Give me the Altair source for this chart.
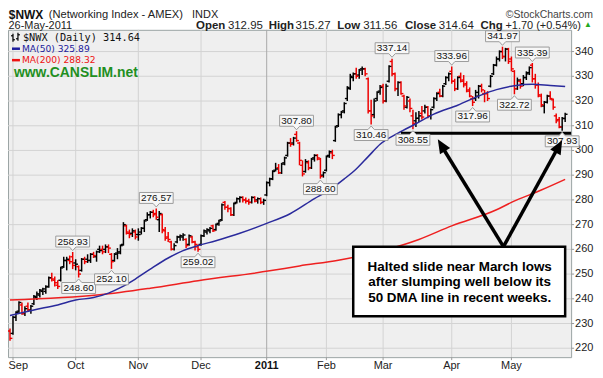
import altair as alt
import numpy as np
import pandas as pd

# trading-day index: 0 = 31-Aug-2010 ... 186 = 26-May-2011
opens = [
    227, 226, 232.5, 235, 237.5, 234, 237, 235.5, 238, 240.5,
    241.5, 243, 243, 245, 248.5, 247.5, 245.5, 247.5, 253, 255.5,
    255.5, 257, 254.5, 253, 251.5, 256, 256, 255.5, 258, 257,
    260, 260, 260, 261, 258, 255.5, 258.5, 259, 262, 269.5,
    266.5, 266.5, 267, 266, 267, 268.5, 272, 274, 275, 274.5,
    272, 274, 267.5, 265, 263, 260, 263, 265, 265, 264,
    262, 265, 263, 261, 262, 265.5, 267, 267.5, 269.5, 268,
    270.5, 272, 279, 277, 276.5, 274, 279, 280.5, 281, 280,
    279.5, 279, 281, 280, 280.5, 279, 282, 287, 288.5, 292,
    293, 291, 295, 298, 303, 303, 306.5, 303, 294, 291.5,
    295, 293, 297, 298, 296.5, 290, 292, 298, 299, 304,
    310, 314.5, 316, 321, 325, 329.5, 331, 330.5, 333, 333,
    329, 316, 314.5, 321, 324, 326, 320, 328, 336, 331,
    325, 327.5, 322, 317.5, 320, 314, 312, 313, 315, 316,
    317.5, 314, 317.5, 321, 323.5, 322, 327, 329.5, 332, 328,
    325, 330, 328.5, 327, 324.5, 321, 321, 322, 326, 323,
    323, 326, 331, 334.5, 337, 340, 338, 341, 337, 332,
    325, 328, 327, 329.5, 331.5, 334.5, 329, 326.5, 322, 318,
    319.5, 322, 320.5, 314, 312.5, 309.5, 312.95]
highs = [
    228, 233, 235, 239, 238.5, 237, 238.5, 237.5, 241.5, 243,
    244, 244.5, 245.5, 249, 250.5, 249, 247.5, 253, 257, 257,
    257.5, 258.93, 256, 253.5, 256.5, 257, 258, 258.5, 259, 259.5,
    261.5, 261.5, 262, 262, 258.5, 258.5, 260.5, 262, 271, 270,
    268, 268.5, 268, 268.5, 269, 272, 275, 275.5, 276, 276.57,
    275.5, 274.5, 269, 267, 263.5, 262.5, 265.5, 266, 266.5, 264.5,
    266, 265.5, 263.5, 262, 266, 268, 268.5, 269, 270, 270.5,
    272, 278.5, 279.6, 278, 277, 279, 281, 281.5, 281.5, 281,
    280.5, 281.5, 281.5, 281, 281, 280.5, 287.5, 289, 292, 295,
    294.5, 295, 297.5, 303.5, 305, 305.5, 307.80, 303.5, 296, 296.5,
    296, 297, 298.5, 298.5, 297, 291.5, 298, 300, 300.3, 310,
    315, 316, 319.5, 326, 331, 331.5, 333.5, 333, 334, 333.5,
    329.5, 320.5, 321, 324, 326.5, 327, 327, 334.5, 337.14, 331.5,
    328, 328, 322.5, 322, 321, 316.5, 315.5, 316, 318, 318.5,
    318, 317, 321.5, 323.5, 325, 326.5, 330, 331.5, 333.96, 329,
    330, 331.5, 330.5, 328, 325.5, 322, 324.5, 326.5, 327, 324.5,
    324, 330.5, 335, 338, 340.5, 341.97, 341.5, 341.5, 338, 332.5,
    329.5, 329, 330.5, 332, 334, 335.39, 331, 327.5, 323, 320,
    322.5, 324, 321, 315, 313.5, 313.5, 315.27]
lows = [
    223, 225.5, 231, 234, 233.5, 233, 235, 234, 237.5, 239.5,
    240.5, 241.5, 242, 244.5, 247, 245, 244, 247, 252.5, 251.5,
    254, 252, 251.5, 248.60, 251, 254, 254.5, 254.5, 256.5, 255,
    258.5, 258, 258.5, 258.5, 252.10, 255, 256, 258, 261.5, 266,
    264.5, 265, 264, 263.5, 266, 267, 271.5, 272.5, 273, 272,
    267, 266.5, 263.5, 263, 259.5, 259.5, 262.5, 263.5, 263.5, 260.5,
    261.5, 262.5, 259.5, 259.02, 261.5, 265, 266, 266.5, 267, 267.5,
    269.5, 271.5, 276, 275, 273.5, 273.5, 278.5, 279, 279, 278.5,
    278, 278.5, 279, 278.5, 278.3, 278, 281.5, 285.5, 288, 291.5,
    290.5, 290.5, 294, 297.5, 301.5, 302, 303.5, 294, 289.5, 291,
    292, 292.5, 295.5, 296, 288.60, 289, 291.5, 297, 296.5, 303.5,
    309.5, 313, 315, 320, 324.5, 328, 329, 329, 330.5, 330,
    315, 310.46, 313, 320, 322.5, 319, 319.5, 327.5, 330, 324,
    322, 322.5, 316.5, 317, 315.5, 308.55, 309.5, 311.5, 312.5, 315,
    313, 312.5, 317, 320, 321.5, 321.5, 326.5, 328, 327, 324,
    324.5, 327.5, 325.5, 323.5, 321.5, 317.96, 320, 321, 323.5, 319.5,
    320, 325.5, 330.5, 334, 336, 337, 336, 335, 332, 322.72,
    324.5, 325, 326, 328.5, 330.5, 327.5, 325, 321.5, 317.5, 315,
    319, 320.5, 316.5, 311, 309, 307.93, 311.56]
closes = [
    224, 232.5, 234.5, 238.5, 234, 236, 235.5, 237, 241, 242,
    243.5, 244, 244.8, 248.5, 248, 246.5, 245, 252.5, 255.5, 256,
    255, 253.5, 254, 250, 256, 255, 255.5, 258, 257.5, 259,
    259.5, 259, 261, 260.5, 255, 258, 258.5, 261.5, 270, 267,
    266, 267.5, 265, 266, 268.5, 271.5, 274, 275, 274, 273,
    274.5, 268, 264.5, 264, 260, 261.5, 265, 265.5, 265.8, 261.5,
    265.5, 263, 262, 260, 265.5, 267.5, 268, 268.5, 267.5, 270,
    271.5, 278, 277, 276.5, 274, 278.5, 280.5, 281, 280, 279.5,
    279, 281, 279.5, 280.5, 279, 279.8, 287, 288.5, 291.5, 292.5,
    291, 294.5, 297, 303, 302.5, 305, 304, 296, 290.5, 295.5,
    293, 296.5, 298, 297, 289.5, 291, 297.5, 299.5, 298, 309.5,
    314.5, 315.5, 319, 325.5, 330, 331, 330, 332.5, 333, 331,
    316, 314, 320, 323.5, 325.5, 320, 326, 334, 331, 325,
    327.5, 323, 318, 321.5, 317, 311, 313, 314, 313.5, 317.5,
    314, 316.5, 321, 323, 322, 326, 329.5, 331, 328, 325,
    329.5, 328, 326.5, 324, 322, 319.5, 323.5, 326, 324.5, 323,
    321, 330, 334.5, 337, 340, 338, 341, 336, 333, 325,
    328.5, 326, 329.5, 331, 333.5, 329, 326.5, 322.5, 318.5, 319.5,
    322, 321, 317.5, 312, 309.5, 312.94, 314.64]

ma50_day = [0, 8, 16, 22, 28, 33, 37, 42, 47, 53, 58, 63, 69, 77, 86, 94, 102, 107,
            112, 116, 120, 124, 130, 136, 142, 150, 158, 163, 169, 175, 181, 186]
ma50_val = [233.2, 235.5, 237.5, 239.5, 240.5, 242.3, 244.5, 248, 252, 256.5, 259.5,
            261.5, 263.5, 266.5, 270.5, 274.5, 280.5, 284, 288.5, 292.5, 297.5, 302.5,
            307, 310.8, 314.7, 318.3, 322.5, 324.6, 326.2, 326.8, 326.3, 325.89]
ma200_day = [0, 30, 47, 63, 87, 97, 110, 125, 137, 148, 163, 168, 178, 186]
ma200_val = [239.5, 241.6, 244.3, 247.3, 251.3, 253.3, 255.6, 259.5, 264, 269.5,
             276, 279, 284, 288.32]

month_ticks = [1, 22, 43, 64, 86, 106, 125, 148, 168]
month_labels = ["Sep", "Oct", "Nov", "Dec", "2011", "Feb", "Mar", "Apr", "May"]
y_ticks = list(range(220, 341, 10))

peak_day = [21, 49, 96, 128, 148, 165, 175]
peak_val = [258.93, 276.57, 307.80, 337.14, 333.96, 341.97, 335.39]
trough_day = [23, 34, 63, 104, 121, 135, 155, 169, 185]
trough_val = [248.60, 252.10, 259.02, 288.60, 310.46, 308.55, 317.96, 322.72, 307.93]

support_level = 307.0
support_from = 131
support_to = 188

note_lines = ["Halted slide near March lows", "after slumping well below its",
              "50 DMA line in recent weeks."]

# ---------------------------------------------------------------------------
W, H = 566, 329
n = len(closes)
df = pd.DataFrame({"day": list(range(n)), "open": opens, "high": highs,
                   "low": lows, "close": closes})
prev = df["close"].shift(1)
df["dir"] = np.where(df["close"] > prev, "up", "down")

XS = alt.Scale(domain=[-0.67, 188], nice=False, zero=False)
YS = alt.Scale(domain=[216.4, 348.8], nice=False, zero=False)
CS = alt.Scale(domain=["up", "down"], range=["#000000", "#ee0000"])


def X(f):
    return alt.X(f, scale=XS, axis=None)


def Y(f):
    return alt.Y(f, scale=YS, axis=None)


# --- axes drawn from the tick arrays -------------------------------------
ydf = pd.DataFrame({"v": y_ticks})
mdf = pd.DataFrame({"day": month_ticks, "t": month_labels})
mdf["kind"] = np.where(mdf["t"].str.isdigit(), "year", "month")
mdf["first"] = [i == 0 for i in range(len(mdf))]

ygrid = alt.Chart(ydf).mark_rule(color="#d3d3d3", strokeWidth=1).encode(
    y=Y("v:Q"), x=alt.value(0), x2=alt.value(W))
ytick = alt.Chart(ydf).mark_rule(color="#9a9a9a", strokeWidth=1).encode(
    y=Y("v:Q"), x=alt.value(W), x2=alt.value(W + 3))
ylab = alt.Chart(ydf).mark_text(align="left", baseline="middle", font="Liberation Sans",
                                fontSize=11, color="#222222").encode(
    y=Y("v:Q"), x=alt.value(W + 4), text=alt.Text("v:Q"))
xgrid_m = alt.Chart(mdf).transform_filter("datum.kind == 'month'").mark_rule(
    strokeWidth=1, color="#d3d3d3").encode(x=X("day:Q"), y=alt.value(0), y2=alt.value(H))
xgrid_y = alt.Chart(mdf).transform_filter("datum.kind == 'year'").mark_rule(
    strokeWidth=1, color="#a9a9a9").encode(x=X("day:Q"), y=alt.value(0), y2=alt.value(H))
xtick = alt.Chart(mdf).mark_rule(color="#9a9a9a", strokeWidth=1).encode(
    x=X("day:Q"), y=alt.value(H), y2=alt.value(H + 3))
xlab_first = alt.Chart(mdf).transform_filter("datum.first").mark_text(
    align="left", baseline="middle", font="Liberation Sans", fontSize=11, color="#222222").encode(
    x=alt.value(0.5), y=alt.value(H + 9), text="t:N")
xlab_m = alt.Chart(mdf).transform_filter("datum.kind == 'month' && !datum.first").mark_text(
    baseline="middle", font="Liberation Sans", fontSize=11, color="#222222").encode(
    x=X("day:Q"), y=alt.value(H + 9), text="t:N")
xlab_y = alt.Chart(mdf).transform_filter("datum.kind == 'year'").mark_text(
    baseline="middle", font="Liberation Sans", fontSize=11, fontWeight="bold",
    color="#111111").encode(x=X("day:Q"), y=alt.value(H + 9), text="t:N")

# --- OHLC bars -------------------------------------------------------------
base = alt.Chart(df)
col = alt.Color("dir:N", scale=CS, legend=None)
hl = base.mark_rule(strokeWidth=1.5).encode(x=X("day:Q"), y=Y("low:Q"), y2="high:Q", color=col)
op = base.transform_calculate(xo="datum.day - 0.8").mark_rule(strokeWidth=1.4).encode(
    x=X("xo:Q"), x2="day:Q", y=Y("open:Q"), color=col)
cl = base.transform_calculate(xc="datum.day + 0.8").mark_rule(strokeWidth=1.4).encode(
    x=X("day:Q"), x2="xc:Q", y=Y("close:Q"), color=col)

ma50 = alt.Chart(pd.DataFrame({"day": ma50_day, "ma": ma50_val})).mark_line(
    color="#2a2a9c", strokeWidth=1.5, interpolate="monotone").encode(x=X("day:Q"), y=Y("ma:Q"))
ma200 = alt.Chart(pd.DataFrame({"day": ma200_day, "ma": ma200_val})).mark_line(
    color="#ee2020", strokeWidth=1.5, interpolate="monotone").encode(x=X("day:Q"), y=Y("ma:Q"))

support = alt.Chart(pd.DataFrame({"a": [support_from], "b": [support_to], "v": [support_level]})).mark_rule(
    color="black", strokeWidth=3).encode(x=X("a:Q"), x2="b:Q", y=Y("v:Q"))

PEAK_BOX = "M-0.85,-0.8 L0.85,-0.8 L0.85,-0.25 L0.16,-0.25 L0,-0.07 L-0.16,-0.25 L-0.85,-0.25 Z"
TROUGH_BOX = "M-0.85,0.8 L0.85,0.8 L0.85,0.25 L0.16,0.25 L0,0.07 L-0.16,0.25 L-0.85,0.25 Z"
peaks_df = pd.DataFrame({"day": peak_day, "v": peak_val})
troughs_df = pd.DataFrame({"day": trough_day, "v": trough_val})


def price_labels(frame, shape, dy):
    box = alt.Chart(frame).mark_point(shape=shape, size=1600, filled=True, fill="#f7f7f7",
                                      stroke="#9b9b9b", strokeWidth=1, opacity=1).encode(
        x=X("day:Q"), y=Y("v:Q"))
    txt = alt.Chart(frame).mark_text(dy=dy, fontSize=10, font="Liberation Sans", color="#111111",
                                     baseline="middle").encode(
        x=X("day:Q"), y=Y("v:Q"), text=alt.Text("v:Q", format=".2f"))
    return [box, txt]


ONE = pd.DataFrame({"k": [0]})


def label(text, x, y, size=11, weight="normal", color="#222222", font="Liberation Sans",
          align="left"):
    return alt.Chart(ONE).mark_text(align=align, baseline="middle", fontSize=size,
                                    fontWeight=weight, color=color, font=font).encode(
        x=alt.value(x), y=alt.value(y), text=alt.value(text))


def seg(x1, y1, x2, y2, color="black", width=1.0):
    return alt.Chart(ONE).mark_rule(color=color, strokeWidth=width).encode(
        x=alt.value(x1), y=alt.value(y1), x2=alt.value(x2), y2=alt.value(y2))


HEAD = "M0,0 L0.6,1.4 L-0.6,1.4 Z"


def head(x, y, angle):
    return alt.Chart(ONE).mark_point(shape=HEAD, size=400, filled=True, color="black",
                                     opacity=1, angle=angle).encode(x=alt.value(x), y=alt.value(y))


annot = [
    seg(436, 117, 498, 218, width=3.5), seg(553, 118, 498, 218, width=3.5),
    head(432, 110, 328.6), head(557, 111, 28.9),
    alt.Chart(ONE).mark_rect(fill="white", stroke="black", strokeWidth=2.5).encode(
        x=alt.value(347), x2=alt.value(560), y=alt.value(218), y2=alt.value(288)),
    alt.Chart(ONE).mark_text(align="center", baseline="middle", fontSize=13.5, fontWeight="bold",
                             font="Liberation Sans", color="black", lineHeight=16).encode(
        x=alt.value(454), y=alt.value(238), text=alt.value(note_lines)),
]

legend = [
    seg(5, 4, 5, 12, width=1.2), seg(3, 6, 5, 6, width=1.2), seg(5, 10, 7, 10, width=1.2),
    seg(10, 3, 10, 11, width=1.2), seg(8, 9, 10, 9, width=1.2), seg(10, 5, 12, 5, width=1.2),
    label("$NWX (Daily) 314.64", 15, 8.5, size=10.3, font="DejaVu Sans Mono", color="#111111"),
    seg(4, 19, 12, 19, color="#1b1b9c", width=2.5),
    label("MA(50) 325.89", 14, 19, size=9.2, font="DejaVu Sans", color="#1b1b9c"),
    seg(4, 30.5, 12, 30.5, color="#ee1111", width=2.5),
    label("MA(200) 288.32", 14, 30.5, size=9.2, font="DejaVu Sans", color="#ee1111"),
    label("www.CANSLIM.net", 6, 43, size=14, weight="bold", color="#1f8f1f"),
]

titles = [
    label("$NWX", 0.8, -15, size=12, weight="bold", color="#111111"),
    label("(Networking Index - AMEX)", 41, -15, size=11.2),
    label("INDX", 185, -15, size=11),
    label("\u00a9StockCharts.com", 588, -15, size=10.5, color="#444444", align="right"),
    label("26-May-2011", 0.5, -3.5, size=11),
    label("Open", 189, -4, size=11.5, weight="bold"), label("312.95", 221, -4, size=11.5),
    label("High", 262, -4, size=11.5, weight="bold"), label("315.27", 289, -4, size=11.5),
    label("Low", 331, -4, size=11.5, weight="bold"), label("311.56", 357, -4, size=11.5),
    label("Close", 399, -4, size=11.5, weight="bold"), label("314.64", 433, -4, size=11.5),
    label("Chg", 475, -4, size=11.5, weight="bold"), label("+1.70 (+0.54%)", 500, -4, size=11),
    label("\u25b2", 583, -5, size=8, color="#22aa22", align="center"),
]

layers = ([ygrid, xgrid_m, xgrid_y, ytick, ylab, xtick, xlab_first, xlab_m, xlab_y,
           hl, op, cl, ma200, ma50, support]
          + price_labels(peaks_df, PEAK_BOX, -10.5) + price_labels(troughs_df, TROUGH_BOX, 10.5)
          + annot + legend + titles)

chart = alt.layer(*layers).properties(
    width=W, height=H,
    padding={"left": 0, "top": 21, "right": 24, "bottom": 13},
    autosize=alt.AutoSizeParams(type="none"),
    background="white",
).configure_view(fill="#efefef", stroke="#9aa3a3", strokeWidth=1)

chart.save("out.html", embed_options={"renderer": "svg", "actions": False})
